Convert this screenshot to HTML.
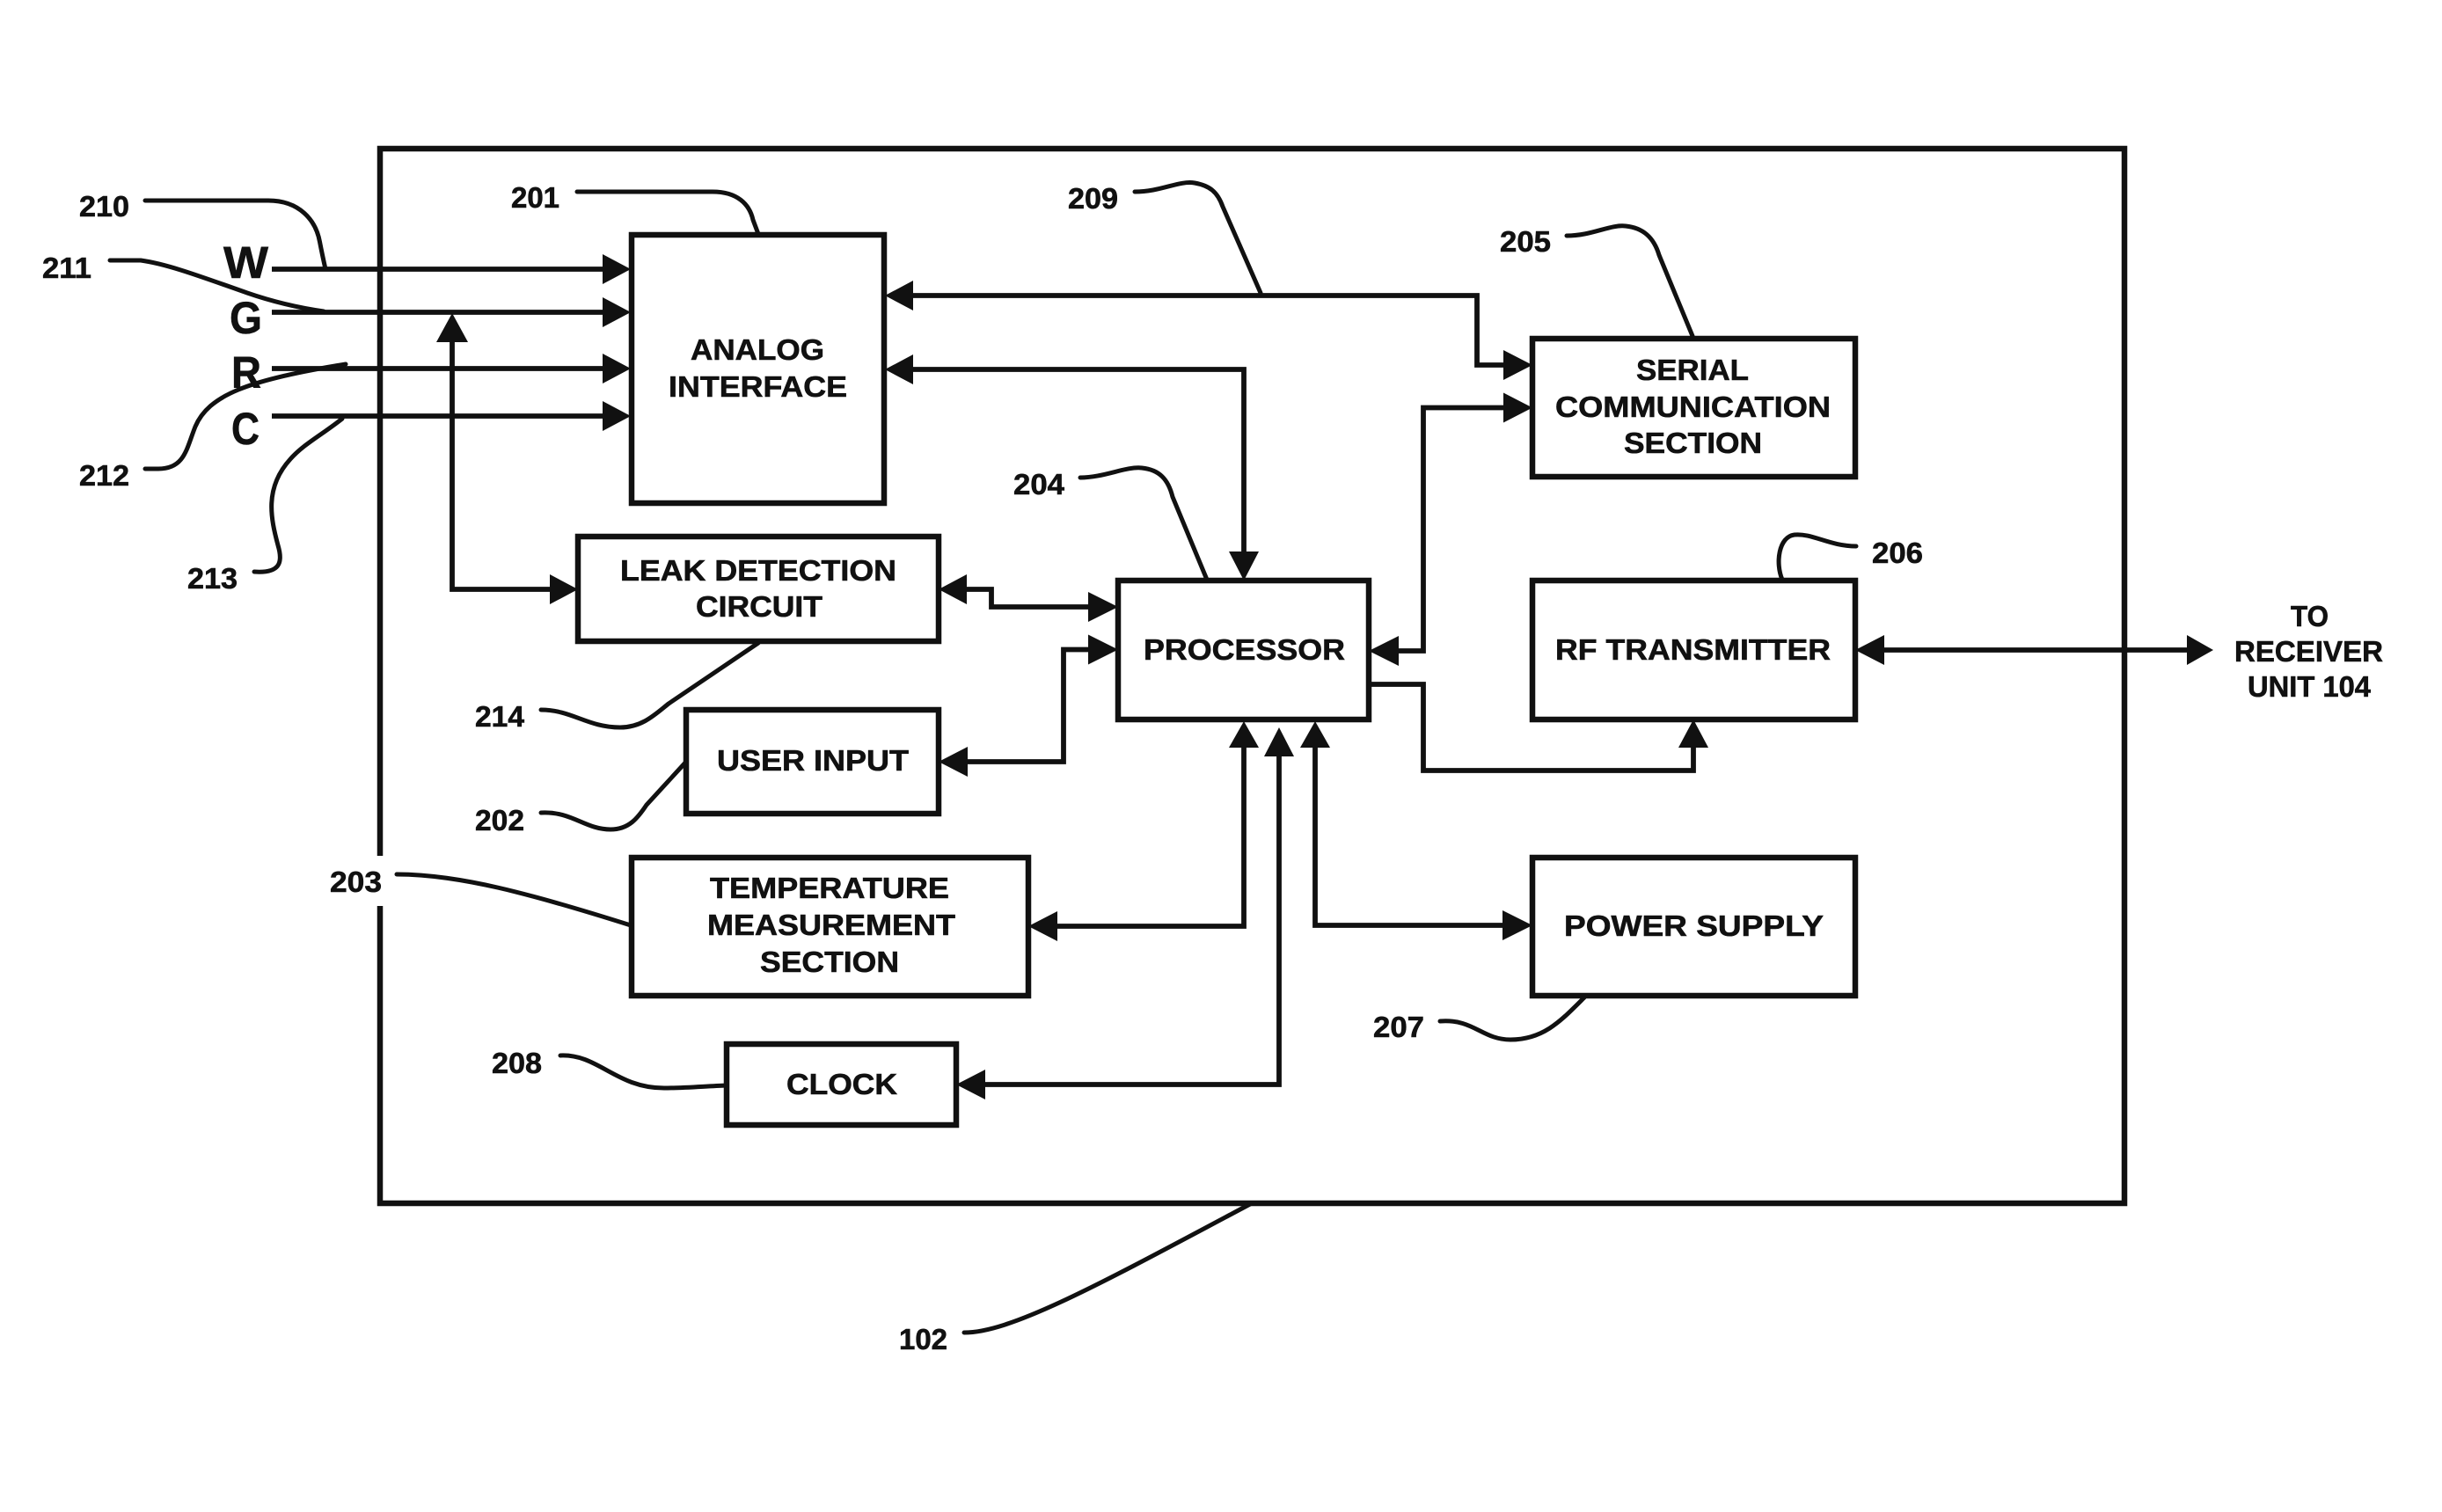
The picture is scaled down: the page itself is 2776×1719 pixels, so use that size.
<!DOCTYPE html>
<html><head><meta charset="utf-8"><style>
html,body{margin:0;padding:0;background:#fff}
svg{display:block}
text{font-family:"Liberation Sans",sans-serif;font-weight:bold;fill:#111;stroke:#111;stroke-width:.6px;font-size:33px}
.l{fill:none;stroke:#111;stroke-width:5.8;stroke-linejoin:miter}
.c{fill:none;stroke:#111;stroke-width:5;stroke-linecap:round}
.b{fill:#fff;stroke:#111;stroke-width:6.5}
.a{fill:#111}
.w{font-size:51px}
</style></head><body>
<svg xmlns="http://www.w3.org/2000/svg" width="2776" height="1719" viewBox="0 0 2776 1719">
<rect width="2776" height="1719" fill="#fff"/>
<rect x="432" y="169" width="1983" height="1199" fill="none" stroke="#111" stroke-width="6.5"/>
<rect x="424" y="973" width="16" height="57" fill="#fff"/>

<!-- connectors -->
<path class="l" d="M309 306H690M309 355H690M309 419H690M309 473H690"/>
<path class="l" d="M514 385V670H630"/>
<path class="l" d="M1035 336H1679V415H1712"/>
<path class="l" d="M1035 420H1414V632"/>
<path class="l" d="M1095 670H1127V690H1240"/>
<path class="l" d="M1097 866H1209V738.500H1240"/>
<path class="l" d="M1199 1053H1414V846"/>
<path class="l" d="M1117 1233H1454V856"/>
<path class="l" d="M1495 846V1052H1711"/>
<path class="l" d="M1588 740H1618V463.500H1712"/>
<path class="l" d="M1556 778H1618V876H1925V846"/>
<path class="l" d="M2139 739H2489"/>

<!-- leaders -->
<path class="c" d="M165 228H305C340 228 359 250 363.500 275Q366 288 370 306"/>
<path class="c" d="M125 296H160C190 300 230 315 281 333C310 343 340 350 368 354"/>
<path class="c" d="M165 533H180C210 533 212 510 222 485C237 450 280 432 393 414"/>
<path class="c" d="M289 650C318 652 322 640 316 620C308 590 300 555 330 522C345 505 365 495 389 476"/>
<path class="c" d="M656 218H810C838 218 852 232 856 250L862 266"/>
<path class="c" d="M1290 218C1320 218 1340 205 1358 208C1375 211 1384 218 1390 235L1433 333"/>
<path class="c" d="M1781 268C1810 268 1830 255 1848 257C1868 259 1880 270 1886 290L1924 382"/>
<path class="c" d="M1228 543C1255 543 1280 530 1298 532C1318 534 1328 545 1333 565L1372 659"/>
<path class="c" d="M2110 621C2080 621 2060 606 2040 608C2022 610 2018 640 2026 659"/>
<path class="c" d="M615 807C650 807 668 827 705 827C730 827 745 812 760 800L862 731"/>
<path class="c" d="M615 924C650 922 665 943 694 943C715 943 725 930 735 915L780 866"/>
<path class="c" d="M451 994C520 994 600 1015 717 1052"/>
<path class="c" d="M637 1200C680 1198 700 1237 755 1237C780 1237 800 1235 826 1234"/>
<path class="c" d="M1096 1515C1150 1515 1250 1460 1421 1369"/>
<path class="c" d="M1637 1161C1675 1158 1685 1182 1717 1182C1755 1182 1775 1160 1801 1134"/>

<!-- boxes -->
<rect class="b" x="718" y="267" width="287" height="305"/>
<rect class="b" x="657" y="610" width="410" height="119"/>
<rect class="b" x="780" y="807" width="287" height="118"/>
<rect class="b" x="718" y="975" width="451" height="157"/>
<rect class="b" x="826" y="1187" width="261" height="92"/>
<rect class="b" x="1271" y="660" width="285" height="158"/>
<rect class="b" x="1742" y="385" width="367" height="157"/>
<rect class="b" x="1742" y="660" width="367" height="158"/>
<rect class="b" x="1742" y="975" width="367" height="157"/>

<!-- arrowheads -->
<g class="a">
<path d="M717 306L685 289V323Z"/><path d="M717 355L685 338V372Z"/><path d="M717 419L685 402V436Z"/><path d="M717 473L685 456V490Z"/>
<path d="M514 356L496 389H532Z"/>
<path d="M657 670L625 653V687Z"/>
<path d="M1006 336L1038 319V353Z"/><path d="M1006 420L1038 403V437Z"/>
<path d="M1742 415L1709 398V432Z"/><path d="M1742 463.500L1709 446.500V480.500Z"/>
<path d="M1414 660L1397 627H1431Z"/>
<path d="M1067 670L1099 653V687Z"/><path d="M1271 690L1237 673V707Z"/>
<path d="M1067 866L1100 849V883Z"/><path d="M1271 738.500L1237 721.500V755.500Z"/>
<path d="M1169 1053L1202 1036V1070Z"/><path d="M1414 820L1397 850H1431Z"/>
<path d="M1087 1233L1120 1216V1250Z"/><path d="M1454 827L1437 860H1471Z"/>
<path d="M1495 820L1478 850H1512Z"/><path d="M1742 1052L1708 1035V1069Z"/>
<path d="M1556 740L1590 723V757Z"/>
<path d="M1925 818L1908 850H1942Z"/>
<path d="M2109 739L2142 722V756Z"/><path d="M2516 739L2486 722V756Z"/>
</g>

<!-- box text -->
<text x="785" y="409" textLength="152" lengthAdjust="spacingAndGlyphs">ANALOG</text>
<text x="760" y="451" textLength="203" lengthAdjust="spacingAndGlyphs">INTERFACE</text>
<text x="705" y="660" textLength="314" lengthAdjust="spacingAndGlyphs">LEAK DETECTION</text>
<text x="791" y="701" textLength="144" lengthAdjust="spacingAndGlyphs">CIRCUIT</text>
<text x="815" y="876" textLength="218" lengthAdjust="spacingAndGlyphs">USER INPUT</text>
<text x="807" y="1021" textLength="272" lengthAdjust="spacingAndGlyphs">TEMPERATURE</text>
<text x="804" y="1063" textLength="282" lengthAdjust="spacingAndGlyphs">MEASUREMENT</text>
<text x="864" y="1105" textLength="158" lengthAdjust="spacingAndGlyphs">SECTION</text>
<text x="894" y="1244" textLength="126" lengthAdjust="spacingAndGlyphs">CLOCK</text>
<text x="1300" y="750" textLength="229" lengthAdjust="spacingAndGlyphs">PROCESSOR</text>
<text x="1860" y="432" textLength="128" lengthAdjust="spacingAndGlyphs">SERIAL</text>
<text x="1768" y="474" textLength="313" lengthAdjust="spacingAndGlyphs">COMMUNICATION</text>
<text x="1846" y="515" textLength="157" lengthAdjust="spacingAndGlyphs">SECTION</text>
<text x="1768" y="750" textLength="313" lengthAdjust="spacingAndGlyphs">RF TRANSMITTER</text>
<text x="1778" y="1064" textLength="295" lengthAdjust="spacingAndGlyphs">POWER SUPPLY</text>
<text x="2604" y="712" textLength="43" lengthAdjust="spacingAndGlyphs">TO</text>
<text x="2540" y="752" textLength="169" lengthAdjust="spacingAndGlyphs">RECEIVER</text>
<text x="2555" y="792" textLength="140" lengthAdjust="spacingAndGlyphs">UNIT 104</text>

<!-- WGRC -->
<text class="w" x="254" y="316" textLength="51" lengthAdjust="spacingAndGlyphs">W</text>
<text class="w" x="261" y="379" textLength="37" lengthAdjust="spacingAndGlyphs">G</text>
<text class="w" x="263" y="441" textLength="34" lengthAdjust="spacingAndGlyphs">R</text>
<text class="w" x="263" y="505" textLength="32" lengthAdjust="spacingAndGlyphs">C</text>

<!-- reference labels -->
<text x="90" y="246" textLength="57" lengthAdjust="spacingAndGlyphs">210</text>
<text x="48" y="316" textLength="56" lengthAdjust="spacingAndGlyphs">211</text>
<text x="90" y="552" textLength="57" lengthAdjust="spacingAndGlyphs">212</text>
<text x="213" y="669" textLength="57" lengthAdjust="spacingAndGlyphs">213</text>
<text x="581" y="236" textLength="55" lengthAdjust="spacingAndGlyphs">201</text>
<text x="1214" y="237" textLength="57" lengthAdjust="spacingAndGlyphs">209</text>
<text x="1705" y="286" textLength="58" lengthAdjust="spacingAndGlyphs">205</text>
<text x="1152" y="562" textLength="58" lengthAdjust="spacingAndGlyphs">204</text>
<text x="2128" y="640" textLength="58" lengthAdjust="spacingAndGlyphs">206</text>
<text x="540" y="826" textLength="56" lengthAdjust="spacingAndGlyphs">214</text>
<text x="540" y="944" textLength="56" lengthAdjust="spacingAndGlyphs">202</text>
<text x="375" y="1014" textLength="59" lengthAdjust="spacingAndGlyphs">203</text>
<text x="559" y="1220" textLength="57" lengthAdjust="spacingAndGlyphs">208</text>
<text x="1022" y="1534" textLength="55" lengthAdjust="spacingAndGlyphs">102</text>
<text x="1561" y="1179" textLength="58" lengthAdjust="spacingAndGlyphs">207</text>
</svg>
</body></html>
